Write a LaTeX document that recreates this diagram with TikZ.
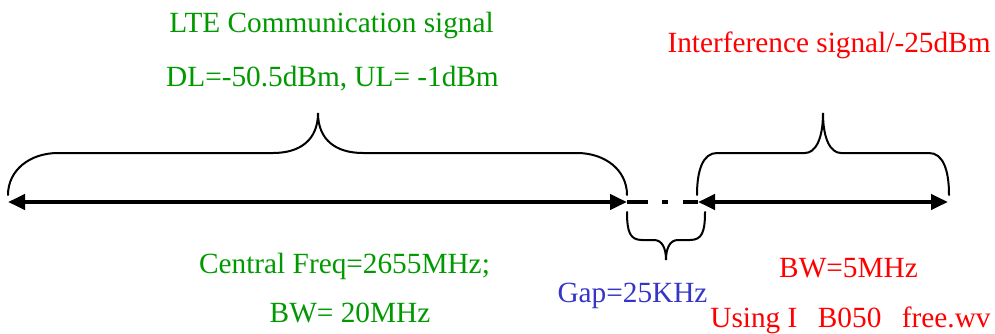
\documentclass[tikz,border=0pt]{standalone}
\usepackage{fontspec}
\setmainfont{Liberation Serif}
\usepackage{xcolor}
\usepackage{tikz}
\usetikzlibrary{arrows.meta}
\definecolor{ltegreen}{HTML}{009900}
\definecolor{intred}{HTML}{FF0000}
\definecolor{gapblue}{HTML}{3535C8}

\tikzset{
  label/.style={anchor=base, inner sep=0pt, font=\fontsize{29.3}{35}\selectfont},
  band/.style={line width=4pt, {Triangle[length=17pt,width=15pt]}-{Triangle[length=17pt,width=15pt]}},
  brace/.style={line width=2pt, line cap=round},
}

\begin{document}
\begin{tikzpicture}[x=1pt, y=-1pt]
  \useasboundingbox (0,0) rectangle (995,334);

  % band edges
  \coordinate (lteL) at (8,202);
  \coordinate (lteR) at (627,202);
  \coordinate (intL) at (698,202);
  \coordinate (intR) at (948,202);

  % labels
  \node[label, text=ltegreen] (lteTitle) at (331.5,33) {LTE Communication signal};
  \node[label, text=ltegreen] (lteLevels) at (332.5,87) {DL=-50.5dBm, UL= -1dBm};
  \node[label, text=intred] (intTitle) at (829,53) {Interference signal/-25dBm};
  \node[label, text=ltegreen] (lteFreq) at (344.5,273) {Central Freq=2655MHz;};
  \node[label, text=ltegreen] (lteBW) at (350,322) {BW= 20MHz};
  \node[label, text=gapblue] (gapLabel) at (632.5,302) {Gap=25KHz};
  \node[label, text=intred] (intBW) at (848.5,277) {BW=5MHz};
  \node[label, text=intred] (intFile) at (850.5,327.5) {Using I\hspace{0.7em}B050\hspace{0.7em}free.wv};

  % bands
  \draw[band] (lteL) -- (lteR);
  \draw[band] (intL) -- (intR);
  \draw[line width=3.5pt, dash pattern=on 21pt off 14pt on 6pt off 15pt on 15pt] (lteR) -- (intL);

  % braces
  \draw[brace] (8,195) .. controls (8,170) and (30,153) .. (58,153) -- (273,153)
    .. controls (300,153) and (318,140) .. (318,113)
    .. controls (318,140) and (336,153) .. (363,153) -- (577,153)
    .. controls (605,153) and (627,170) .. (627,195);
  \draw[brace] (697,195) .. controls (697,170) and (703,153) .. (717,153) -- (805,153)
    .. controls (815,153) and (823,140) .. (823,113)
    .. controls (823,140) and (831,153) .. (841,153) -- (929,153)
    .. controls (943,153) and (949,170) .. (949,195);
  \draw[brace] (627,212) .. controls (627,232) and (630,240) .. (642,240) -- (654,240)
    .. controls (662,240) and (666,248) .. (666,260)
    .. controls (666,248) and (670,240) .. (678,240) -- (690,240)
    .. controls (702,240) and (705,232) .. (705,212);
\end{tikzpicture}
\end{document}
